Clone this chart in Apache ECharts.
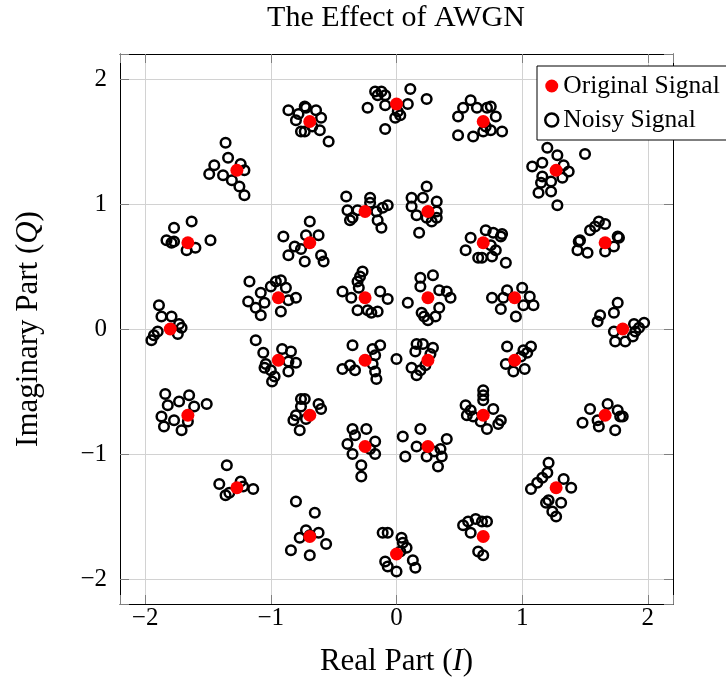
<!DOCTYPE html>
<html>
<head>
<meta charset="utf-8">
<script src="https://cdn.jsdelivr.net/npm/echarts@6/dist/echarts.min.js"></script>
<style>
html, body { margin: 0; padding: 0; background: #fff; }
#chart { width: 726px; height: 684px; }
</style>
</head>
<body>
<div id="chart"></div>
<script>
// 32-APSK: ideal symbols (4 + 12 + 16)
var origInner = [[0.25,0.25],[-0.25,0.25],[-0.25,-0.25],[0.25,-0.25]];
var origMiddle = [
  [0.94,0.25],[0.69,0.69],[0.25,0.94],[-0.25,0.94],[-0.69,0.69],[-0.94,0.25],
  [-0.94,-0.25],[-0.69,-0.69],[-0.25,-0.94],[0.25,-0.94],[0.69,-0.69],[0.94,-0.25]
];
var origOuter = [
  [1.8,0],[1.66,0.69],[1.27,1.27],[0.69,1.66],[0,1.8],[-0.69,1.66],[-1.27,1.27],[-1.66,0.69],
  [-1.8,0],[-1.66,-0.69],[-1.27,-1.27],[-0.69,-1.66],[0,-1.8],[0.69,-1.66],[1.27,-1.27],[1.66,-0.69]
];

// received symbols after AWGN
var noisyInner = [
  [-0.27,0.46],[-0.29,0.42],[-0.31,0.38],[-0.30,0.33],[-0.43,0.30],[-0.36,0.25],[-0.13,0.30],[-0.07,0.24],[-0.31,0.15],[-0.23,0.15],[-0.20,0.13],[-0.15,0.14],
  [0.29,0.43],[0.19,0.41],[0.19,0.34],[0.34,0.31],[0.40,0.30],[0.43,0.25],[0.09,0.21],[0.20,0.13],[0.25,0.07],[0.31,0.10],[0.34,0.17],[0.22,0.10],
  [-0.35,-0.13],[-0.19,-0.16],[-0.13,-0.13],[-0.17,-0.21],[-0.43,-0.32],[-0.37,-0.29],[-0.33,-0.33],[-0.19,-0.28],[-0.17,-0.34],[-0.16,-0.40],[0.00,-0.24],
  [0.16,-0.12],[0.21,-0.12],[0.29,-0.15],[0.15,-0.18],[0.27,-0.20],[0.12,-0.31],[0.19,-0.33],[0.16,-0.37],[0.23,-0.29]
];
var noisyMiddle = [
  [-0.40,1.06],[-0.21,1.05],[-0.21,1.01],[-0.07,0.99],[-0.11,0.97],[-0.39,0.95],[-0.35,0.89],[-0.37,0.87],[-0.16,0.94],[-0.15,0.87],[-0.12,0.81],[-0.31,0.95],
  [0.24,1.14],[0.12,1.05],[0.21,1.05],[0.32,1.02],[0.12,0.98],[0.16,0.91],[0.32,0.94],[0.32,0.89],[0.24,0.89],[0.18,0.77],[0.28,0.86],
  [0.55,0.63],[0.65,0.57],[0.59,0.73],[0.75,0.67],[0.79,0.63],[0.76,0.58],[0.87,0.53],[0.68,0.57],[0.83,0.74],[0.71,0.79],[0.77,0.77],[0.84,0.76],
  [0.76,0.25],[0.88,0.31],[1.00,0.33],[1.06,0.26],[1.09,0.19],[1.01,0.19],[0.83,0.16],[0.95,0.10],[0.85,0.25],
  [0.88,-0.14],[1.01,-0.17],[1.07,-0.14],[1.04,-0.19],[0.87,-0.28],[1.02,-0.32],[0.93,-0.34],[0.99,-0.22],
  [0.69,-0.49],[0.69,-0.53],[0.69,-0.57],[0.55,-0.61],[0.59,-0.65],[0.56,-0.69],[0.61,-0.70],[0.77,-0.64],[0.83,-0.73],[0.72,-0.80],[0.81,-0.76],[0.67,-0.74],
  [0.19,-0.80],[0.05,-0.86],[0.40,-0.88],[0.16,-0.94],[0.07,-1.02],[0.35,-0.96],[0.24,-1.02],[0.33,-1.10],[0.36,-1.02],[0.30,-0.98],
  [-0.35,-0.80],[-0.24,-0.80],[-0.33,-0.85],[-0.39,-0.92],[-0.17,-0.90],[-0.35,-1.00],[-0.17,-1.00],[-0.28,-1.09],[-0.28,-1.18],[-0.21,-0.96],
  [-0.76,-0.56],[-0.76,-0.62],[-0.80,-0.69],[-0.82,-0.73],[-0.73,-0.56],[-0.62,-0.60],[-0.60,-0.64],[-0.72,-0.72],[-0.77,-0.81],
  [-1.12,-0.09],[-1.06,-0.19],[-0.91,-0.16],[-0.84,-0.18],[-0.80,-0.27],[-0.86,-0.26],[-1.05,-0.31],[-1.00,-0.33],[-0.86,-0.34],[-0.97,-0.38],[-0.99,-0.42],[-1.04,-0.28],
  [-1.17,0.38],[-1.08,0.29],[-1.00,0.34],[-0.96,0.38],[-0.92,0.39],[-0.88,0.33],[-0.80,0.25],[-0.86,0.23],[-1.18,0.22],[-1.05,0.21],[-1.12,0.17],[-1.08,0.11],[-0.92,0.14],
  [-0.90,0.74],[-0.81,0.66],[-0.86,0.59],[-0.73,0.54],[-0.76,0.64],[-0.69,0.86],[-0.62,0.75],[-0.72,0.75],[-0.60,0.59],[-0.58,0.54]
];
var noisyOuter = [
  [-1.36,1.49],[-1.34,1.37],[-1.45,1.31],[-1.24,1.32],[-1.49,1.24],[-1.38,1.23],[-1.31,1.19],[-1.21,1.27],[-1.25,1.14],[-1.21,1.07],
  [-0.86,1.75],[-0.80,1.67],[-0.76,1.58],[-0.73,1.78],[-0.72,1.77],[-0.64,1.75],[-0.60,1.69],[-0.61,1.59],[-0.73,1.58],[-0.54,1.50],[-0.67,1.62],[-0.78,1.72],
  [-0.17,1.90],[-0.12,1.90],[-0.09,1.87],[-0.15,1.87],[0.11,1.92],[0.24,1.84],[-0.23,1.77],[-0.09,1.79],[0.09,1.80],[0.01,1.74],[-0.01,1.69],[0.03,1.71],[-0.09,1.60],
  [0.59,1.83],[0.53,1.77],[0.49,1.70],[0.64,1.77],[0.72,1.77],[0.49,1.55],[0.61,1.54],[0.69,1.58],[0.75,1.78],[0.79,1.70],[0.84,1.58],[0.75,1.59],[0.71,1.62],
  [1.20,1.45],[1.28,1.39],[1.50,1.40],[1.08,1.30],[1.16,1.33],[1.33,1.31],[1.37,1.26],[1.16,1.22],[1.32,1.21],[1.23,1.18],[1.15,1.17],[1.13,1.09],[1.23,1.10],[1.28,0.99],
  [1.45,0.70],[1.44,0.63],[1.52,0.61],[1.66,0.62],[1.73,0.66],[1.77,0.73],[1.46,0.71],[1.54,0.79],[1.61,0.86],[1.66,0.84],[1.58,0.82],[1.76,0.74],
  [1.76,0.21],[1.73,0.13],[1.62,0.11],[1.60,0.06],[1.89,0.04],[1.97,0.05],[1.93,0.01],[1.73,-0.02],[1.88,-0.06],[1.74,-0.10],[1.82,-0.10],[1.90,-0.02],
  [1.54,-0.64],[1.68,-0.60],[1.76,-0.65],[1.80,-0.70],[1.48,-0.75],[1.61,-0.78],[1.74,-0.81],[1.78,-0.70],[1.60,-0.73],
  [1.21,-1.07],[1.20,-1.15],[1.16,-1.19],[1.12,-1.23],[1.07,-1.28],[1.33,-1.20],[1.39,-1.27],[1.19,-1.39],[1.31,-1.39],[1.24,-1.46],[1.27,-1.50],[1.21,-1.37],
  [0.53,-1.57],[0.57,-1.54],[0.63,-1.52],[0.68,-1.54],[0.59,-1.63],[0.65,-1.78],[0.69,-1.81],[0.72,-1.54],
  [-0.11,-1.63],[-0.07,-1.63],[0.04,-1.67],[0.05,-1.71],[0.08,-1.75],[0.13,-1.85],[0.15,-1.91],[-0.09,-1.86],[-0.07,-1.90],[0.00,-1.94],[0.03,-1.78],
  [-0.80,-1.38],[-0.77,-1.67],[-0.84,-1.77],[-0.69,-1.81],[-0.72,-1.61],[-0.65,-1.47],[-0.62,-1.63],[-0.69,-1.65],[-0.56,-1.72],
  [-1.35,-1.09],[-1.41,-1.24],[-1.24,-1.22],[-1.22,-1.26],[-1.14,-1.28],[-1.36,-1.33],[-1.33,-1.31],
  [-1.84,-0.52],[-1.73,-0.58],[-1.65,-0.53],[-1.82,-0.61],[-1.61,-0.62],[-1.51,-0.60],[-1.87,-0.70],[-1.77,-0.73],[-1.85,-0.78],[-1.71,-0.81],[-1.66,-0.74],
  [-1.89,0.19],[-1.87,0.10],[-1.79,0.10],[-1.73,0.04],[-1.71,0.01],[-1.74,-0.04],[-1.90,-0.02],[-1.93,-0.05],[-1.95,-0.09],
  [-1.63,0.86],[-1.77,0.81],[-1.83,0.71],[-1.48,0.71],[-1.79,0.69],[-1.77,0.70],[-1.60,0.65],[-1.67,0.63]
];

var serif = '"Liberation Serif", "DejaVu Serif", serif';

(function(){

var chart = echarts.init(document.getElementById("chart"));

function tickFmt(v) {
    if (Math.abs(v - Math.round(v)) > 1e-9) return '';
    return v < 0 ? '\u2212' + Math.abs(v) : String(v);
}

var frame = {show: true, onZero: false, lineStyle: {color: '#000', width: 1}};
var ticks = {show: true, inside: true, length: 9, lineStyle: {color: '#808080', width: 1}};
var grid = {show: true, lineStyle: {color: '#d2d2d2', width: 1}};

option = {
    animation: false,
    backgroundColor: '#fff',
    title: {
        text: 'The Effect of AWGN',
        left: 396,
        top: 3,
        padding: 0,
        textAlign: 'center',
        textStyle: {fontFamily: serif, fontSize: 30, fontWeight: 'normal', color: '#000'}
    },
    legend: {
        orient: 'vertical',
        left: 537,
        top: 66,
        padding: [7, 24, 7, 7],
        itemGap: 8,
        itemWidth: 13,
        itemHeight: 13,
        backgroundColor: '#fff',
        borderColor: '#000',
        borderWidth: 1,
        borderRadius: 0,
        textStyle: {fontFamily: serif, fontSize: 25.5, color: '#000', lineHeight: 25},
        data: [
            {name: 'Original Signal', icon: 'circle', itemStyle: {color: '#ff0000', borderWidth: 0}},
            {name: 'Noisy Signal', icon: 'circle', itemStyle: {color: 'rgba(0,0,0,0)', borderColor: '#000', borderWidth: 2.5}}
        ]
    },
    grid: {left: 120, top: 54, width: 553, height: 550},
    xAxis: [
        {
            type: 'value', min: -2.2, max: 2.2, splitNumber: 4, position: 'bottom',
            axisLine: frame, axisTick: ticks, splitLine: grid,
            axisLabel: {formatter: tickFmt, fontFamily: serif, fontSize: 25, color: '#000', margin: 2},
            name: 'Real Part ({i|I})',
            nameLocation: 'middle',
            nameGap: 42,
            nameTextStyle: {fontFamily: serif, fontSize: 31, color: '#000',
                rich: {i: {fontFamily: serif, fontSize: 31, fontStyle: 'italic', color: '#000'}}}
        },
        {
            type: 'value', min: -2.2, max: 2.2, splitNumber: 4, position: 'top',
            axisLine: frame, axisTick: ticks, splitLine: {show: false}, axisLabel: {show: false}
        }
    ],
    yAxis: [
        {
            type: 'value', min: -2.2, max: 2.2, splitNumber: 4, position: 'left',
            axisLine: frame, axisTick: ticks, splitLine: grid,
            axisLabel: {formatter: tickFmt, fontFamily: serif, fontSize: 25, color: '#000', margin: 13},
            name: 'Imaginary Part ({i|Q})',
            nameLocation: 'middle',
            nameGap: 76,
            nameTextStyle: {fontFamily: serif, fontSize: 31, color: '#000',
                rich: {i: {fontFamily: serif, fontSize: 31, fontStyle: 'italic', color: '#000'}}}
        },
        {
            type: 'value', min: -2.2, max: 2.2, splitNumber: 4, position: 'right',
            axisLine: frame, axisTick: ticks, splitLine: {show: false}, axisLabel: {show: false}
        }
    ],
    series: [
        {
            name: 'Noisy Signal',
            type: 'scatter',
            symbol: 'circle',
            symbolSize: 9.6,
            itemStyle: {color: 'rgba(0,0,0,0)', borderColor: '#000', borderWidth: 2.5, opacity: 1},
            emphasis: {disabled: true},
            data: noisyOuter.concat(noisyMiddle, noisyInner),
            z: 3
        },
        {
            name: 'Original Signal',
            type: 'scatter',
            symbol: 'circle',
            symbolSize: 13,
            itemStyle: {color: '#ff0000', opacity: 1},
            emphasis: {disabled: true},
            data: origOuter.concat(origMiddle, origInner),
            z: 4
        }
    ]
};

chart.setOption(option);
})();
</script>
</body>
</html>
